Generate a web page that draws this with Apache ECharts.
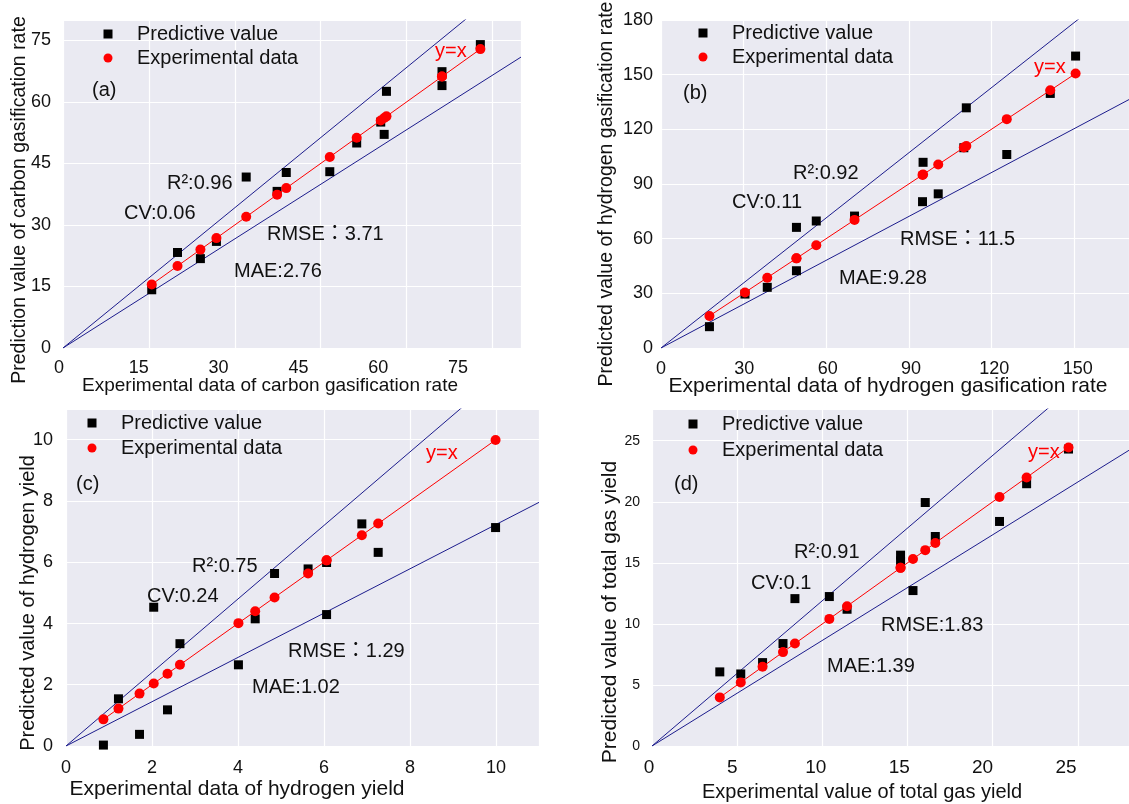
<!DOCTYPE html>
<html>
<head>
<meta charset="utf-8">
<script src="https://cdn.jsdelivr.net/npm/echarts@6/dist/echarts.min.js"></script>
<style>
html, body { margin: 0; padding: 0; background: #fff; }
#chart { width: 1129px; height: 804px; }
</style>
</head>
<body>
<div id="chart"></div>
<script>
// (a) carbon gasification rate
var expA = [15.5, 20.0, 24.0, 26.8, 32.0, 37.4, 39.0, 46.6, 51.3, 55.5, 56.1, 56.5, 66.2, 66.2, 72.9]
var predA = [14.2, 23.3, 21.8, 26.0, 41.7, 38.2, 42.8, 43.0, 50.0, 55.1, 52.1, 62.6, 67.4, 64.0, 74.0]
// (b) hydrogen gasification rate
var expB = [17.6, 30.5, 38.6, 49.2, 49.2, 56.4, 70.3, 95.0, 95.2, 100.7, 110.0, 110.9, 125.6, 141.4, 150.6]
var predB = [11.7, 29.6, 33.3, 42.4, 66.2, 69.7, 72.4, 80.3, 101.9, 84.6, 109.9, 131.8, 106.2, 139.7, 160.2]
// (c) hydrogen yield
var expC = [0.87, 1.22, 1.71, 2.04, 2.36, 2.65, 4.01, 4.40, 4.85, 5.63, 6.06, 6.06, 6.88, 7.26, 9.99]
var predC = [0.03, 1.54, 0.38, 4.53, 1.18, 3.34, 2.65, 4.15, 5.63, 5.78, 5.99, 4.29, 7.25, 6.32, 7.13]
// (d) total gas yield
var expD = [3.98, 5.21, 6.49, 7.69, 8.39, 10.41, 11.45, 14.59, 14.59, 15.32, 16.04, 16.63, 20.40, 21.99, 24.45]
var predD = [6.07, 5.90, 6.83, 8.39, 12.07, 12.24, 11.20, 15.63, 15.16, 12.73, 19.94, 17.16, 18.39, 21.48, 24.32]

// tick labels
var ticksA = [0, 15, 30, 45, 60, 75]
var yTicksB = [0, 30, 60, 90, 120, 150, 180]
var xTicksB = [0, 30, 60, 90, 120, 150]
var ticksC = [0, 2, 4, 6, 8, 10]
var ticksD = [0, 5, 10, 15, 20, 25]

// slopes of the two error-band lines
var upperSlope = [1.14, 1.19, 1.2, 1.19]
var lowerSlope = [0.887, 0.802, 0.723, 0.865]

// statistics
var statsA = ['R²:0.96', 'CV:0.06', 'RMSE：3.71', 'MAE:2.76']
var statsB = ['R²:0.92', 'CV:0.11', 'RMSE：11.5', 'MAE:9.28']
var statsC = ['R²:0.75', 'CV:0.24', 'RMSE：1.29', 'MAE:1.02']
var statsD = ['R²:0.91', 'CV:0.1', 'RMSE:1.83', 'MAE:1.39']

var FONT = "'Liberation Sans', Arial, 'Noto Sans CJK TC', sans-serif"

var panels = [
  {
    tag: '(a)', exp: expA, pred: predA, stats: statsA, xTicks: ticksA, yTicks: ticksA,
    xMax: 80, yMax: 80, grid: { left: 63, top: 20, width: 458, height: 328 },
    labelGrid: { left: 59, top: 40, width: 399, height: 308 }, xMargin: 11, yMargin: 8, xSize: 18, ySize: 18,
    xName: 'Experimental data of carbon gasification rate', xNamePos: [270, 386], xNameSize: 19,
    yName: 'Prediction value of carbon gasification rate', yNamePos: [20, 200], yNameSize: 19.5,
    legend: [103.5, 24], legendGap: 4,
    textPos: [[92, 90], [435, 51], [167, 183], [124, 213], [267, 234], [234, 271]]
  },
  {
    tag: '(b)', exp: expB, pred: predB, stats: statsB, xTicks: xTicksB, yTicks: yTicksB,
    xMax: 170, yMax: 180, grid: { left: 661, top: 20, width: 472, height: 328 },
    labelGrid: { left: 661, top: 20, width: 416.7, height: 328 }, xMargin: 12, yMargin: 8, xSize: 18, ySize: 18,
    xName: 'Experimental data of hydrogen gasification rate', xNamePos: [888, 386], xNameSize: 21,
    yName: 'Predicted value of hydrogen gasification rate', yNamePos: [607, 194], yNameSize: 19.5,
    legend: [698.5, 23], legendGap: 4,
    textPos: [[683, 93], [1034, 67], [793, 173], [732, 202], [900, 239], [839, 278]]
  },
  {
    tag: '(c)', exp: expC, pred: predC, stats: statsC, xTicks: ticksC, yTicks: ticksC,
    xMax: 11, yMax: 11, grid: { left: 66, top: 409, width: 473, height: 337 },
    labelGrid: { left: 66, top: 440, width: 430, height: 306 }, xMargin: 13, yMargin: 13, xSize: 18, ySize: 18,
    xName: 'Experimental data of hydrogen yield', xNamePos: [237, 789], xNameSize: 21,
    yName: 'Predicted value of hydrogen yield', yNamePos: [28, 603], yNameSize: 20,
    legend: [87.5, 413], legendGap: 5,
    textPos: [[76, 484], [426, 453], [192, 566], [147, 596], [288, 651], [252, 687]]
  },
  {
    tag: '(d)', exp: expD, pred: predD, stats: statsD, xTicks: ticksD, yTicks: ticksD,
    xMax: 28, yMax: 27.6, grid: { left: 652, top: 409, width: 490.6, height: 337 },
    labelGrid: { left: 649, top: 441, width: 417, height: 305 }, xMargin: 12, yMargin: 9, xSize: 19, ySize: 14,
    xName: 'Experimental value of total gas yield', xNamePos: [862, 792], xNameSize: 20,
    yName: 'Predicted value of total gas yield', yNamePos: [610, 612], yNameSize: 21,
    legend: [688.5, 414], legendGap: 6,
    textPos: [[674, 484], [1028, 452], [794, 552], [751, 583], [881, 625], [827, 666]]
  }
]

var grid = [], xAxis = [], yAxis = [], series = [], legend = [], graphic = []

panels.forEach(function (p, i) {
  var step = p.xTicks[1] - p.xTicks[0]
  var yStep = p.yTicks[1] - p.yTicks[0]
  // plotting grid
  grid.push(Object.assign({ show: true, backgroundColor: '#EAEAF2', borderWidth: 0 }, p.grid))
  xAxis.push({
    type: 'value', gridIndex: i, min: 0, max: p.xMax, interval: step,
    axisLine: { show: false }, axisTick: { show: false }, axisLabel: { show: false },
    splitLine: { lineStyle: { color: '#ffffff', width: 1.2 } }
  })
  yAxis.push({
    type: 'value', gridIndex: i, min: 0, max: p.yMax, interval: yStep,
    axisLine: { show: false }, axisTick: { show: false }, axisLabel: { show: false },
    splitLine: { lineStyle: { color: '#ffffff', width: 1.2 } }
  })

  var xMaxv = p.xMax
  series.push({
    name: 'band-up', type: 'line', xAxisIndex: i, yAxisIndex: i, silent: true, symbol: 'none', clip: true,
    data: [[0, 0], [xMaxv, xMaxv * upperSlope[i]]], lineStyle: { color: '#1c1c8c', width: 1 }, z: 2
  })
  series.push({
    name: 'band-low', type: 'line', xAxisIndex: i, yAxisIndex: i, silent: true, symbol: 'none', clip: true,
    data: [[0, 0], [xMaxv, xMaxv * lowerSlope[i]]], lineStyle: { color: '#1c1c8c', width: 1 }, z: 2
  })
  series.push({
    name: 'Predictive value', type: 'scatter', xAxisIndex: i, yAxisIndex: i,
    symbol: 'rect', symbolSize: 9, itemStyle: { color: '#000000', opacity: 1 }, z: 3,
    data: p.exp.map(function (e, k) { return [e, p.pred[k]] })
  })
  var sorted = p.exp.slice().sort(function (a, b) { return a - b })
  series.push({
    name: 'Experimental data', type: 'line', xAxisIndex: i, yAxisIndex: i,
    symbol: 'circle', symbolSize: 10, showSymbol: true, showAllSymbol: true,
    itemStyle: { color: '#ff0000', opacity: 1 }, lineStyle: { color: '#ff0000', width: 1 }, z: 4,
    data: sorted.map(function (e) { return [e, e] })
  })

  legend.push({
    orient: 'vertical', left: p.legend[0], top: p.legend[1], padding: 0, selectedMode: false,
    itemWidth: 9, itemHeight: 9, itemGap: p.legendGap,
    textStyle: { fontFamily: FONT, fontSize: 20, color: '#111', lineHeight: 20, padding: [0, 0, 0, 19.5] },
    data: [{ name: 'Predictive value', icon: 'rect' }, { name: 'Experimental data', icon: 'circle' }]
  })
})

// tick label grids
panels.forEach(function (p, i) {
  var n = panels.length + i
  grid.push(Object.assign({ show: false }, p.labelGrid))
  xAxis.push({
    type: 'value', gridIndex: n, min: 0, max: p.xTicks[p.xTicks.length - 1], interval: p.xTicks[1] - p.xTicks[0],
    axisLine: { show: false }, axisTick: { show: false }, splitLine: { show: false },
    axisLabel: { margin: p.xMargin, fontSize: p.xSize, color: '#111', fontFamily: FONT }
  })
  yAxis.push({
    type: 'value', gridIndex: n, min: 0, max: p.yTicks[p.yTicks.length - 1], interval: p.yTicks[1] - p.yTicks[0],
    axisLine: { show: false }, axisTick: { show: false }, splitLine: { show: false },
    axisLabel: { margin: p.yMargin, fontSize: p.ySize, color: '#111', fontFamily: FONT }
  })

  graphic.push({
    type: 'text', x: p.xNamePos[0], y: p.xNamePos[1], silent: true, z: 10,
    style: { text: p.xName, font: p.xNameSize + 'px ' + FONT, fill: '#111', align: 'center', verticalAlign: 'middle' }
  })
  graphic.push({
    type: 'text', x: p.yNamePos[0], y: p.yNamePos[1], rotation: Math.PI / 2, silent: true, z: 10,
    style: { text: p.yName, font: p.yNameSize + 'px ' + FONT, fill: '#111', align: 'center', verticalAlign: 'middle' }
  })
  var texts = [p.tag, 'y=x'].concat(p.stats)
  texts.forEach(function (t, k) {
    graphic.push({
      type: 'text', x: p.textPos[k][0], y: p.textPos[k][1], silent: true, z: 10,
      style: { text: t, font: '20px ' + FONT, fill: k === 1 ? '#ff0000' : '#111', align: 'left', verticalAlign: 'middle' }
    })
  })
})

var chart = echarts.init(document.getElementById('chart'))
chart.setOption({
  animation: false,
  backgroundColor: '#ffffff',
  grid: grid,
  xAxis: xAxis,
  yAxis: yAxis,
  legend: legend,
  graphic: graphic,
  series: series
})
</script>
</body>
</html>
